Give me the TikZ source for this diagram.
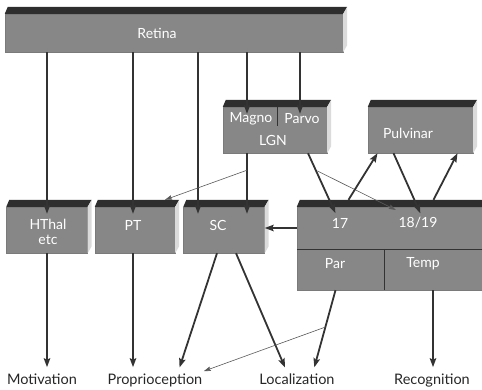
\documentclass[tikz,border=0pt]{standalone}
\usepackage{fontspec}
\setmainfont{Lato}
\usetikzlibrary{arrows.meta,calc}

\begin{document}
\begin{tikzpicture}[x=1pt,y=-1pt,
        every node/.style = {font=\fontsize{14}{16}\selectfont},
        box/.style = {draw=black!52, fill=black!47, line width=0.4pt,
            inner sep=0pt, minimum height=46pt},
        boxtext/.style = {text=white, inner sep=0pt},
        outcome/.style = {text=black!85, inner sep=1pt, anchor=base,
            font=\fontsize{14.5}{16}\selectfont},
        topface/.style = {fill=black!82},
        sideface/.style = {fill=black!14},
        divider/.style = {draw=black!80, line width=0.6pt},
        arr/.style = {draw=black!80, line width=1.8pt,
            -{Stealth[length=9pt,width=6.5pt,inset=1.5pt]}},
        thin/.style = {draw=black!65, line width=0.6pt,
            -{Stealth[length=7pt,width=4.5pt,inset=1pt]}},
        totop/.style = {shorten >=-7pt}]
    \useasboundingbox (0,0) rectangle (482,390);

    % boxes
    \node[box, minimum width=338pt, minimum height=38pt] (retina) at (174,33) {};
    \node[box, minimum width=104pt] (lgn) at (275,130) {};
    \node[box, minimum width=105pt] (pulvinar) at (420.5,130) {};
    \node[box, minimum width=81pt] (hthal) at (47,230) {};
    \node[box, minimum width=80pt] (pt) at (135,230) {};
    \node[box, minimum width=81pt] (sc) at (224,230) {};
    \node[box, minimum width=185pt, minimum height=42pt] (visual) at (389.5,228) {};
    \node[box, minimum width=87pt, minimum height=41pt] (par) at (340.5,269.5) {};
    \node[box, minimum width=98pt, minimum height=41pt] (temp) at (433,269.5) {};

    \foreach \b in {retina,lgn,pulvinar,hthal,pt,sc,visual} {
        \fill[topface] (\b.north west) -- ++(3,-7)
            -- ($(\b.north east)+(4,-7)$) -- (\b.north east) -- cycle;
        \fill[sideface] (\b.north east) -- ++(4,-7)
            -- ($(\b.south east)+(4,-7)$) -- (\b.south east) -- cycle;
    }
    \draw[divider] ([xshift=2pt]lgn.north) -- ++(0,19);
    \draw[divider] (visual.south west) -- (visual.south east);
    \draw[divider] (par.north east) -- (par.south east);

    % box texts
    \node[boxtext] (tretina) at (157,33) {Retina};
    \node[boxtext] (tmagno) at (251,119) {Magno};
    \node[boxtext] (tparvo) at (302,119) {Parvo};
    \node[boxtext] (tlgn) at (273,140) {LGN};
    \node[boxtext] (tpulv) at (408,133) {Pulvinar};
    \node[boxtext] (ththal) at (48,224) {HThal};
    \node[boxtext] (tetc) at (48,240) {etc};
    \node[boxtext] (tpt) at (133,225) {PT};
    \node[boxtext] (tsc) at (218,225) {SC};
    \node[boxtext] (t17) at (340,223) {17};
    \node[boxtext] (t1819) at (418,223) {18/19};
    \node[boxtext] (tpar) at (335,264) {Par};
    \node[boxtext] (ttemp) at (423,264) {Temp};

    % outcomes
    \node[outcome] (motivation) at (42,384) {Motivation};
    \node[outcome] (proprio) at (155,384) {Proprioception};
    \node[outcome] (localiz) at (297,384) {Localization};
    \node[outcome] (recog) at (432,384) {Recognition};

    % from the retina
    \draw[arr, totop] (retina.south -| hthal.north) -- (hthal.north);
    \draw[arr, totop] ([xshift=-2pt]retina.south -| pt.north) -- ([xshift=-2pt]pt.north);
    \draw[arr, totop] ([xshift=-26pt]retina.south -| sc.north) -- ([xshift=-26pt]sc.north);
    \draw[arr, totop] ([xshift=-28pt]retina.south -| lgn.north) -- ([xshift=-28pt]lgn.north);
    \draw[arr, totop] ([xshift=25pt]retina.south -| lgn.north) -- ([xshift=25pt]lgn.north);

    % from the LGN
    \draw[arr, totop] ([xshift=-28pt]lgn.south) coordinate (m) -- (m |- sc.north);
    \draw[thin] ([yshift=-17pt]m) -- ([xshift=30pt,yshift=7pt]pt.north);
    \draw[arr, totop] ([xshift=33pt]lgn.south) coordinate (p) -- ([xshift=-57pt]visual.north) coordinate (q);
    \draw[thin, totop] ($(p)!0.38!([yshift=7pt]q)$) -- (visual.north);

    % visual cortex and pulvinar
    \draw[arr] ([xshift=-41pt,yshift=7pt]visual.north) -- ([xshift=-43pt]pulvinar.south);
    \draw[arr, totop] ([xshift=-27pt]pulvinar.south) -- ([xshift=28pt]visual.north);
    \draw[arr] ([xshift=44pt,yshift=7pt]visual.north) -- ([xshift=37pt]pulvinar.south);
    \draw[arr] (visual.west) -- (visual.west -| sc.east);

    % outputs
    \draw[arr, shorten >=5pt] (hthal.south) -- (hthal.south |- motivation.north);
    \draw[arr, shorten >=5pt] ([xshift=-2pt]pt.south) -- ([xshift=-2pt]pt.south |- proprio.north);
    \draw[arr, shorten >=5pt] ([xshift=-7pt]sc.south) -- ([xshift=23pt]proprio.north);
    \draw[arr, shorten >=5pt] ([xshift=12pt]sc.south) -- ([xshift=-10pt]localiz.north);
    \draw[arr, shorten >=5pt] ([xshift=-5pt]par.south) coordinate (r) -- ([xshift=16pt]localiz.north) coordinate (s);
    \draw[thin, shorten >=3pt] ($(r)!0.45!(s)$) -- ([xshift=46pt]proprio.north);
    \draw[arr, shorten >=5pt] (temp.south) -- (temp.south |- recog.north);
\end{tikzpicture}
\end{document}
